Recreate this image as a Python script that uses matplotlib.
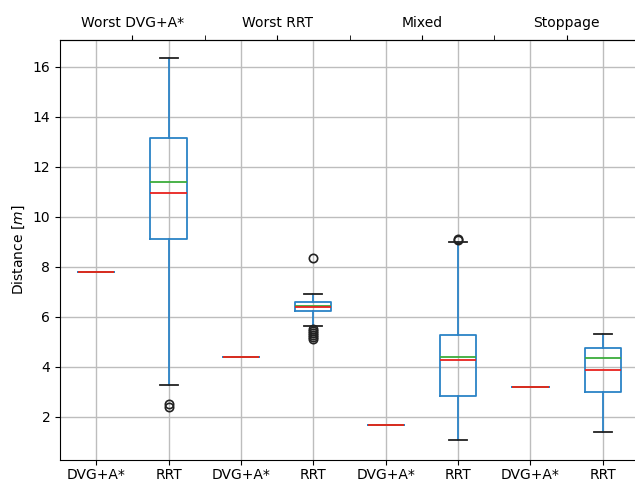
import matplotlib
matplotlib.use("Agg")
import matplotlib.pyplot as plt

tick_labels = ["DVG+A*", "RRT", "DVG+A*", "RRT", "DVG+A*", "RRT", "DVG+A*", "RRT"]
group_labels = ["Worst DVG+A*", "Worst RRT", "Mixed", "Stoppage"]

# box statistics
q1 = [7.81, 9.10, 4.42, 6.24, 1.69, 2.85, 3.19, 3.01]
q3 = [7.81, 13.15, 4.42, 6.60, 1.69, 5.27, 3.19, 4.75]
medians = [7.81, 11.40, 4.42, 6.45, 1.69, 4.40, 3.19, 4.35]
means = [7.81, 10.96, 4.42, 6.41, 1.69, 4.28, 3.19, 3.87]
whislo = [7.81, 3.30, 4.42, 5.64, 1.69, 1.08, 3.19, 1.40]
whishi = [7.81, 16.35, 4.42, 6.93, 1.69, 9.00, 3.19, 5.32]
fliers = [[], [2.52, 2.42], [], [8.35, 5.52, 5.45, 5.38, 5.30, 5.22, 5.14], [], [9.12, 9.06], [], []]

stats = []
for i in range(len(tick_labels)):
    stats.append(dict(med=medians[i], q1=q1[i], q3=q3[i], whislo=whislo[i],
                      whishi=whishi[i], mean=means[i], fliers=fliers[i],
                      label=tick_labels[i]))

fig = plt.figure(figsize=(6.35, 4.82), dpi=100)
ax = fig.add_axes([60/635, 1-460/482, 579/635, 420/482])

blue = "#2b83c6"
ax.bxp(stats, positions=range(1, 9), widths=0.5, showmeans=True, meanline=True,
       boxprops=dict(color=blue, linewidth=1.3),
       whiskerprops=dict(color=blue, linewidth=1.3),
       capprops=dict(color="#222222", linewidth=1.3),
       medianprops=dict(color="#3cac3c", linewidth=1.3),
       meanprops=dict(color="#e8221f", linestyle="-", linewidth=1.3),
       flierprops=dict(marker="o", markerfacecolor="none", markeredgecolor="#222222",
                       markersize=6, markeredgewidth=1.2))

ax.set_xlim(0.5, 8.5)
ax.set_ylim(0.28, 17.08)
ax.set_yticks([2, 4, 6, 8, 10, 12, 14, 16])
ax.set_xticks(range(1, 9))
ax.set_xticklabels(tick_labels)
ax.grid(True, color="#bdbdbd", linewidth=1.0)
ax.set_axisbelow(True)
ax.set_ylabel("Distance [$m$]", fontsize=10)
ax.tick_params(labelsize=10)
ax.tick_params(axis="x", pad=2)
ax.spines["right"].set_visible(False)

top = ax.secondary_xaxis("top")
top.set_xticks([1.5, 3.5, 5.5, 7.5])
top.set_xticklabels(group_labels)
top.set_xticks([2.5, 4.5, 6.5], minor=True)
top.tick_params(which="minor", length=3.5)
top.tick_params(labelsize=10)

fig.savefig("out.png", dpi=100)
